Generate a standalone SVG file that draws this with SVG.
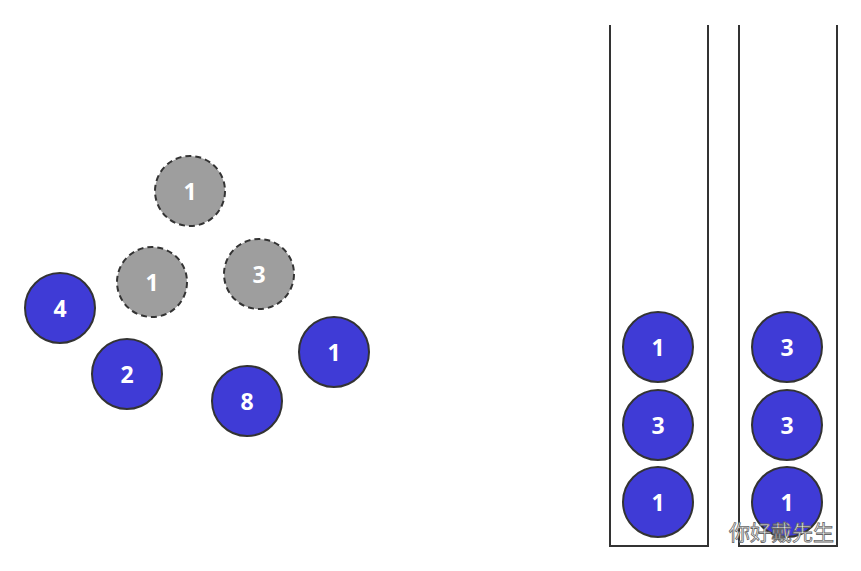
<svg xmlns="http://www.w3.org/2000/svg" width="861" height="571" viewBox="0 0 861 571">
<style>
.b{fill:#3f3bd6;stroke:#333;stroke-width:2}
.g{fill:#9e9e9e;stroke:#333;stroke-width:2;stroke-dasharray:6 4}
.t{fill:#fff;font-family:"Open Sans","Liberation Sans",sans-serif;font-weight:bold;font-size:23px;text-anchor:middle;dominant-baseline:central}
.c{fill:none;stroke:#333;stroke-width:2}
.w{font-family:"Noto Sans CJK SC",sans-serif;font-size:21px;fill:#fff;stroke:#666;stroke-width:0.8}
</style>
<rect width="861" height="571" fill="#fff"/>
<g id="container1"><path class="c" d="M610,25 V546 H708 V25"/></g>
<g id="container2"><path class="c" d="M739,25 V546 H837 V25"/></g>
<g id="g1a"><circle class="g" cx="190" cy="191" r="35"/><text class="t" x="190" y="191">1</text></g>
<g id="g1b"><circle class="g" cx="152" cy="282" r="35"/><text class="t" x="152" y="282">1</text></g>
<g id="g3"><circle class="g" cx="259" cy="274" r="35"/><text class="t" x="259" y="274">3</text></g>
<g id="b4"><circle class="b" cx="60" cy="308" r="35"/><text class="t" x="60" y="308">4</text></g>
<g id="b2"><circle class="b" cx="127" cy="374" r="35"/><text class="t" x="127" y="374">2</text></g>
<g id="b8"><circle class="b" cx="247" cy="401" r="35"/><text class="t" x="247" y="401">8</text></g>
<g id="b1"><circle class="b" cx="334" cy="352" r="35"/><text class="t" x="334" y="352">1</text></g>
<g id="s1a"><circle class="b" cx="658" cy="347" r="35"/><text class="t" x="658" y="347">1</text></g>
<g id="s1b"><circle class="b" cx="658" cy="425" r="35"/><text class="t" x="658" y="425">3</text></g>
<g id="s1c"><circle class="b" cx="658" cy="502" r="35"/><text class="t" x="658" y="502">1</text></g>
<g id="s2a"><circle class="b" cx="787" cy="347" r="35"/><text class="t" x="787" y="347">3</text></g>
<g id="s2b"><circle class="b" cx="787" cy="425" r="35"/><text class="t" x="787" y="425">3</text></g>
<g id="s2c"><circle class="b" cx="787" cy="502" r="35"/><text class="t" x="787" y="502">1</text></g>
<g id="watermark"><text class="w" x="729" y="540">你好戴先生</text></g>
</svg>
